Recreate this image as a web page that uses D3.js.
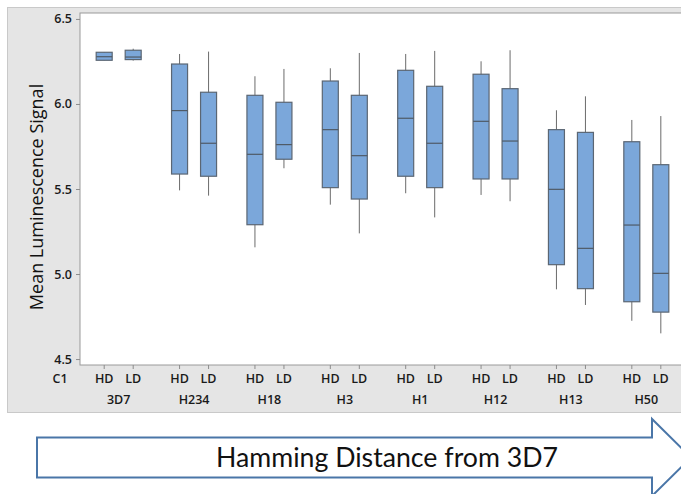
<!DOCTYPE html>
<html>
<head>
<meta charset="utf-8">
<script src="https://cdn.jsdelivr.net/npm/d3@7"></script>
<style>
	body { margin: 0; background: #fff; }
	svg { display: block; }
	.tick-label { font-family: "Open Sans", sans-serif; font-weight: 600; fill: #1a1a1a; }
</style>
</head>
<body>
<svg width="681" height="494"></svg>
<script>
const groups = ['3D7', 'H234', 'H18', 'H3', 'H1', 'H12', 'H13', 'H50'];
const levels = ['HD', 'LD'];
// one entry per group x level, HD first
const whiskerHigh = [6.304, 6.325, 6.294, 6.308, 6.163, 6.206, 6.210, 6.300, 6.294, 6.312, 6.251, 6.316, 5.963, 6.045, 5.906, 5.929];
const q3 = [6.304, 6.316, 6.235, 6.069, 6.051, 6.010, 6.135, 6.051, 6.198, 6.104, 6.175, 6.090, 5.849, 5.833, 5.778, 5.643];
const median = [6.278, 6.276, 5.961, 5.769, 5.704, 5.761, 5.849, 5.696, 5.916, 5.769, 5.898, 5.782, 5.498, 5.151, 5.288, 5.004];
const q1 = [6.257, 6.261, 5.588, 5.575, 5.290, 5.675, 5.508, 5.441, 5.575, 5.508, 5.559, 5.559, 5.055, 4.914, 4.837, 4.776];
const whiskerLow = [6.257, 6.255, 5.492, 5.461, 5.157, 5.622, 5.408, 5.239, 5.475, 5.333, 5.465, 5.428, 4.910, 4.818, 4.725, 4.651];
const yTicks = [4.5, 5.0, 5.5, 6.0, 6.5];

const svg = d3.select('svg');
const plot = {left: 80, top: 13, right: 700, bottom: 365};

// grey panel behind the plot
svg.append('rect')
	.attr('x', 7.5).attr('y', 7.5)
	.attr('width', 700).attr('height', 405)
	.attr('fill', '#e5e5e5')
	.attr('stroke', '#c9c9c9');

svg.append('rect')
	.attr('x', plot.left).attr('y', plot.top)
	.attr('width', plot.right - plot.left).attr('height', plot.bottom - plot.top)
	.attr('fill', '#fff')
	.attr('stroke', '#9a9a9a');

const y = d3.scaleLinear().domain([4.465, 6.535]).range([plot.bottom, plot.top]);
const x0 = d3.scaleBand().domain(groups).range([81, 684]);
const x1 = d3.scalePoint().domain(levels).range([-14.5, 14.5]);

const rows = [];
groups.forEach((g, i) => {
	levels.forEach((l, j) => {
		const k = i * 2 + j;
		rows.push({
			group: g, level: l,
			lo: whiskerLow[k], q1: q1[k], med: median[k], q3: q3[k], hi: whiskerHigh[k]
		});
	});
});

const cx = d => x0(d.group) + x0.bandwidth() / 2 + x1(d.level);

// y axis
const yAxis = svg.append('g')
	.attr('transform', 'translate(' + plot.left + ',0)')
	.call(d3.axisLeft(y).tickValues(yTicks).tickFormat(d3.format('.1f')).tickSize(4).tickPadding(4));
yAxis.select('.domain').remove();
yAxis.selectAll('line').attr('stroke', '#8c8c8c');
yAxis.selectAll('text').attr('class', 'tick-label').style('font-size', '12.5px');

svg.append('text')
	.attr('transform', 'translate(43,197) rotate(-90)')
	.attr('text-anchor', 'middle')
	.style('font-family', '"Open Sans", sans-serif')
	.style('font-size', '18px')
	.attr('fill', '#111')
	.text('Mean Luminescence Signal');

// x ticks
svg.selectAll('.xtick')
	.data(rows)
	.join('line')
	.attr('class', 'xtick')
	.attr('x1', cx).attr('x2', cx)
	.attr('y1', plot.bottom).attr('y2', plot.bottom + 4)
	.attr('stroke', '#8c8c8c');

svg.selectAll('.lvl')
	.data(rows)
	.join('text')
	.attr('class', 'lvl tick-label')
	.attr('x', cx)
	.attr('y', 383)
	.attr('text-anchor', 'middle')
	.style('font-size', '12.5px')
	.text(d => d.level);

svg.selectAll('.grp')
	.data(groups)
	.join('text')
	.attr('class', 'grp tick-label')
	.attr('x', d => x0(d) + x0.bandwidth() / 2)
	.attr('y', 404)
	.attr('text-anchor', 'middle')
	.style('font-size', '12.5px')
	.text(d => d);

svg.append('text')
	.attr('class', 'tick-label')
	.attr('x', 60).attr('y', 383)
	.attr('text-anchor', 'middle')
	.style('font-size', '12.5px')
	.text('C1');

// boxes
const bw = 16;
const box = svg.append('g').selectAll('g')
	.data(rows)
	.join('g');

box.append('line')
	.attr('x1', cx).attr('x2', cx)
	.attr('y1', d => y(d.hi)).attr('y2', d => y(d.lo))
	.attr('stroke', '#6b6b6b');

box.append('rect')
	.attr('x', d => cx(d) - bw / 2)
	.attr('y', d => y(d.q3))
	.attr('width', bw)
	.attr('height', d => y(d.q1) - y(d.q3))
	.attr('fill', '#7ba7da')
	.attr('stroke', '#5b6673')
	.attr('stroke-width', 1.2);

box.append('line')
	.attr('x1', d => cx(d) - bw / 2).attr('x2', d => cx(d) + bw / 2)
	.attr('y1', d => y(d.med)).attr('y2', d => y(d.med))
	.attr('stroke', '#4f5a66')
	.attr('stroke-width', 1.2);

// arrow below the chart
const arrow = d3.path();
arrow.moveTo(37, 437.5);
arrow.lineTo(652, 437.5);
arrow.lineTo(652, 419);
arrow.lineTo(691, 457.5);
arrow.lineTo(652, 496);
arrow.lineTo(652, 477.5);
arrow.lineTo(37, 477.5);
arrow.closePath();

svg.append('path')
	.attr('d', arrow.toString())
	.attr('fill', '#fff')
	.attr('stroke', '#4a76a8')
	.attr('stroke-width', 2);

svg.append('text')
	.attr('x', 387).attr('y', 467)
	.attr('text-anchor', 'middle')
	.attr('textLength', 342)
	.attr('lengthAdjust', 'spacingAndGlyphs')
	.style('font-family', 'Lato, sans-serif')
	.style('font-size', '27px')
	.attr('fill', '#111')
	.text('Hamming Distance from 3D7');
</script>
</body>
</html>
